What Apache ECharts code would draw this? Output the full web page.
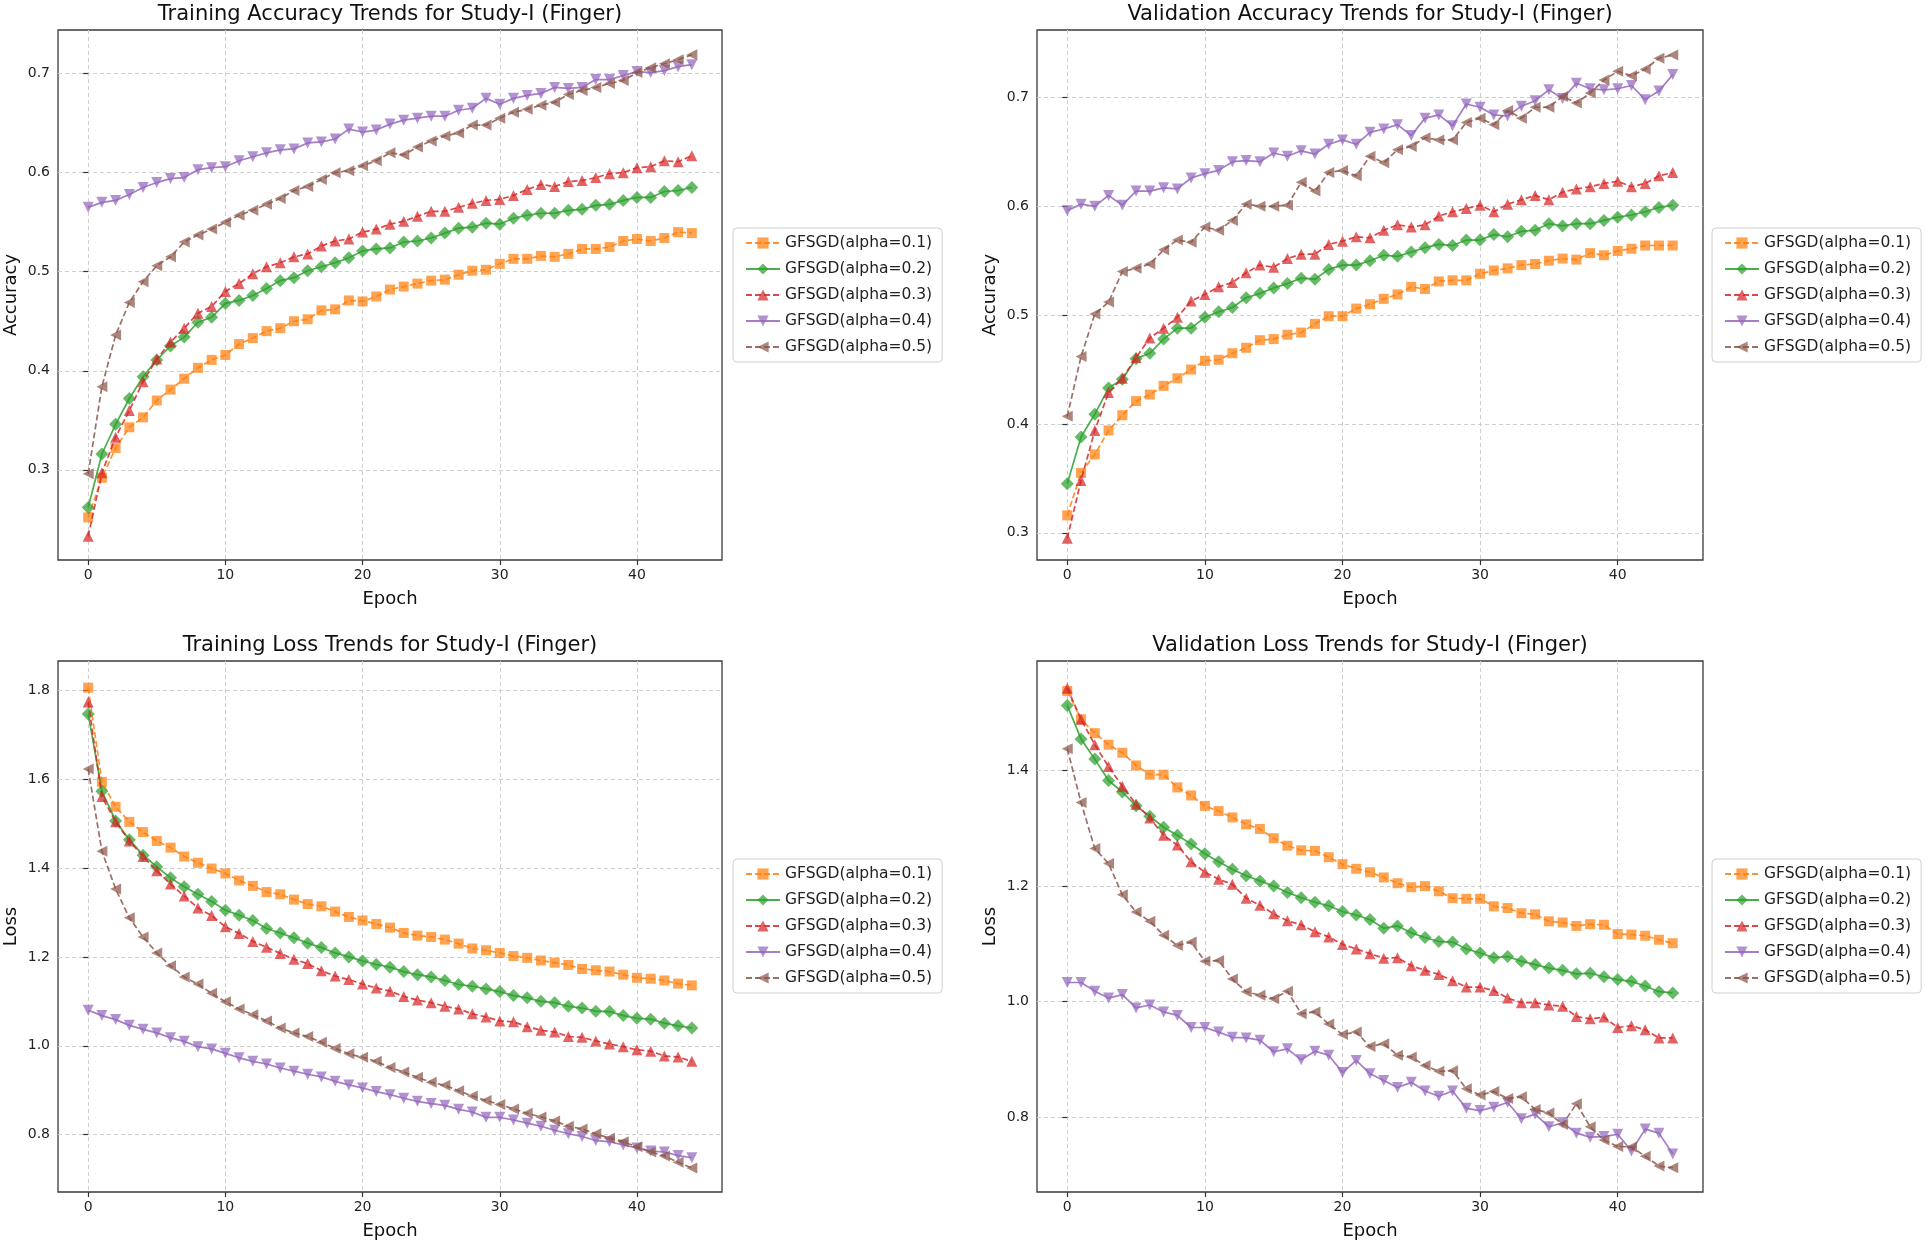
<!DOCTYPE html>
<html>
<head>
<meta charset="utf-8">
<script src="https://cdn.jsdelivr.net/npm/echarts@6/dist/echarts.min.js"></script>
<style>
html,body{margin:0;padding:0;background:#fff;}
#chart{width:1930px;height:1246px;}
</style>
</head>
<body>
<div id="chart"></div>
<script>
const epochs = [0,1,2,3,4,5,6,7,8,9,10,11,12,13,14,15,16,17,18,19,20,21,22,23,24,25,26,27,28,29,30,31,32,33,34,35,36,37,38,39,40,41,42,43,44];
const seriesNames = ['GFSGD(alpha=0.1)','GFSGD(alpha=0.2)','GFSGD(alpha=0.3)','GFSGD(alpha=0.4)','GFSGD(alpha=0.5)'];
const panelTitles = ['Training Accuracy Trends for Study-I (Finger)','Validation Accuracy Trends for Study-I (Finger)','Training Loss Trends for Study-I (Finger)','Validation Loss Trends for Study-I (Finger)'];
const yAxisNames = ['Accuracy','Accuracy','Loss','Loss'];
const xTickValues = [0,10,20,30,40];
const yTickValues = [[0.3,0.4,0.5,0.6,0.7],[0.3,0.4,0.5,0.6,0.7],[0.8,1.0,1.2,1.4,1.6,1.8],[0.8,1.0,1.2,1.4]];

// Training accuracy
const trainAcc01 = [0.252,0.292,0.322,0.343,0.353,0.370,0.381,0.392,0.403,0.411,0.416,0.427,0.433,0.440,0.443,0.450,0.452,0.461,0.462,0.471,0.470,0.475,0.482,0.485,0.488,0.491,0.492,0.497,0.501,0.502,0.508,0.513,0.513,0.516,0.515,0.518,0.523,0.523,0.525,0.531,0.533,0.531,0.534,0.540,0.539];
const trainAcc02 = [0.262,0.316,0.346,0.372,0.394,0.411,0.425,0.434,0.449,0.454,0.468,0.471,0.476,0.483,0.491,0.494,0.501,0.505,0.509,0.514,0.521,0.523,0.524,0.530,0.531,0.534,0.539,0.544,0.545,0.549,0.548,0.554,0.557,0.559,0.559,0.562,0.563,0.567,0.568,0.572,0.575,0.575,0.581,0.582,0.585];
const trainAcc03 = [0.233,0.297,0.333,0.360,0.389,0.412,0.429,0.443,0.458,0.465,0.480,0.488,0.498,0.505,0.509,0.515,0.518,0.526,0.531,0.533,0.540,0.543,0.548,0.551,0.556,0.561,0.561,0.565,0.569,0.572,0.573,0.577,0.583,0.588,0.586,0.591,0.592,0.595,0.599,0.600,0.605,0.606,0.612,0.611,0.617];
const trainAcc04 = [0.565,0.570,0.572,0.578,0.585,0.590,0.594,0.595,0.603,0.605,0.606,0.612,0.616,0.620,0.623,0.624,0.630,0.631,0.634,0.644,0.641,0.643,0.649,0.653,0.655,0.657,0.657,0.663,0.665,0.675,0.669,0.675,0.678,0.680,0.686,0.685,0.686,0.694,0.694,0.698,0.702,0.701,0.703,0.707,0.709];
const trainAcc05 = [0.296,0.384,0.436,0.469,0.490,0.506,0.515,0.530,0.537,0.543,0.550,0.557,0.562,0.568,0.574,0.582,0.586,0.593,0.600,0.602,0.607,0.612,0.620,0.618,0.626,0.632,0.637,0.640,0.648,0.648,0.655,0.661,0.664,0.668,0.671,0.679,0.683,0.686,0.690,0.693,0.701,0.706,0.710,0.714,0.719];

// Validation accuracy
const valAcc01 = [0.316,0.355,0.372,0.394,0.408,0.421,0.427,0.435,0.442,0.450,0.458,0.459,0.465,0.470,0.477,0.478,0.482,0.484,0.492,0.499,0.499,0.506,0.510,0.515,0.519,0.526,0.524,0.531,0.532,0.532,0.538,0.541,0.543,0.546,0.547,0.550,0.552,0.551,0.557,0.555,0.559,0.561,0.564,0.564,0.564];
const valAcc02 = [0.345,0.388,0.409,0.433,0.441,0.460,0.465,0.478,0.488,0.488,0.498,0.503,0.507,0.516,0.520,0.525,0.529,0.534,0.533,0.542,0.546,0.546,0.550,0.555,0.554,0.558,0.562,0.565,0.564,0.569,0.569,0.574,0.572,0.577,0.578,0.584,0.582,0.584,0.584,0.587,0.590,0.592,0.595,0.599,0.601];
const valAcc03 = [0.295,0.348,0.394,0.429,0.442,0.461,0.479,0.488,0.498,0.513,0.519,0.526,0.530,0.539,0.546,0.544,0.552,0.556,0.556,0.565,0.568,0.572,0.571,0.578,0.583,0.581,0.583,0.591,0.595,0.598,0.601,0.595,0.602,0.606,0.610,0.606,0.613,0.616,0.618,0.621,0.623,0.618,0.621,0.628,0.631];
const valAcc04 = [0.596,0.602,0.600,0.610,0.601,0.614,0.614,0.617,0.616,0.626,0.630,0.633,0.641,0.642,0.641,0.649,0.646,0.651,0.648,0.657,0.661,0.657,0.668,0.671,0.675,0.665,0.681,0.684,0.674,0.694,0.691,0.684,0.683,0.692,0.697,0.707,0.699,0.713,0.708,0.707,0.708,0.711,0.698,0.706,0.721];
const valAcc05 = [0.407,0.462,0.501,0.512,0.540,0.543,0.547,0.560,0.569,0.567,0.581,0.578,0.587,0.602,0.600,0.600,0.601,0.622,0.614,0.631,0.633,0.628,0.646,0.640,0.652,0.655,0.663,0.661,0.661,0.677,0.681,0.675,0.688,0.681,0.691,0.691,0.701,0.695,0.704,0.716,0.724,0.720,0.726,0.736,0.739];

// Training loss
const trainLoss01 = [1.806,1.594,1.538,1.504,1.481,1.461,1.446,1.426,1.412,1.399,1.388,1.372,1.360,1.346,1.341,1.329,1.319,1.314,1.302,1.290,1.282,1.274,1.266,1.254,1.248,1.245,1.239,1.230,1.219,1.215,1.209,1.202,1.198,1.192,1.187,1.182,1.173,1.170,1.167,1.160,1.153,1.151,1.147,1.140,1.136];
const trainLoss02 = [1.747,1.573,1.506,1.464,1.429,1.403,1.378,1.358,1.341,1.325,1.305,1.294,1.282,1.264,1.254,1.243,1.231,1.221,1.209,1.200,1.191,1.183,1.177,1.167,1.160,1.155,1.147,1.138,1.134,1.128,1.122,1.113,1.108,1.100,1.097,1.089,1.085,1.078,1.077,1.068,1.062,1.060,1.051,1.045,1.040];
const trainLoss03 = [1.774,1.561,1.504,1.461,1.426,1.394,1.364,1.337,1.310,1.293,1.268,1.253,1.235,1.222,1.208,1.195,1.185,1.169,1.157,1.149,1.139,1.130,1.123,1.111,1.103,1.097,1.089,1.083,1.072,1.065,1.056,1.054,1.043,1.035,1.031,1.021,1.019,1.011,1.004,0.998,0.991,0.988,0.977,0.975,0.965];
const trainLoss04 = [1.080,1.068,1.059,1.046,1.037,1.029,1.018,1.010,0.998,0.993,0.983,0.973,0.965,0.959,0.950,0.943,0.936,0.930,0.920,0.912,0.905,0.897,0.890,0.882,0.875,0.870,0.866,0.857,0.851,0.839,0.839,0.833,0.826,0.819,0.810,0.802,0.796,0.787,0.784,0.777,0.770,0.763,0.761,0.753,0.748];
const trainLoss05 = [1.623,1.438,1.353,1.288,1.245,1.209,1.180,1.155,1.139,1.118,1.099,1.083,1.070,1.056,1.040,1.029,1.021,1.008,0.994,0.982,0.974,0.965,0.951,0.941,0.929,0.918,0.911,0.899,0.887,0.877,0.868,0.858,0.848,0.840,0.831,0.819,0.813,0.802,0.792,0.784,0.773,0.761,0.752,0.738,0.725];

// Validation loss
const valLoss01 = [1.538,1.489,1.465,1.445,1.431,1.409,1.393,1.393,1.371,1.357,1.339,1.330,1.319,1.307,1.299,1.283,1.270,1.262,1.261,1.250,1.238,1.230,1.224,1.215,1.205,1.198,1.200,1.191,1.179,1.178,1.178,1.165,1.162,1.153,1.151,1.139,1.137,1.131,1.134,1.133,1.117,1.116,1.114,1.107,1.101];
const valLoss02 = [1.513,1.455,1.420,1.383,1.363,1.339,1.321,1.302,1.288,1.273,1.256,1.242,1.229,1.218,1.209,1.200,1.189,1.180,1.172,1.166,1.156,1.150,1.142,1.127,1.131,1.119,1.111,1.104,1.103,1.091,1.084,1.076,1.078,1.070,1.064,1.058,1.054,1.048,1.049,1.043,1.038,1.035,1.027,1.017,1.015];
const valLoss03 = [1.543,1.489,1.445,1.407,1.373,1.342,1.318,1.288,1.271,1.242,1.224,1.212,1.203,1.179,1.167,1.152,1.140,1.133,1.121,1.112,1.099,1.091,1.083,1.075,1.076,1.062,1.054,1.047,1.036,1.025,1.025,1.019,1.006,0.998,0.998,0.994,0.992,0.974,0.970,0.973,0.955,0.958,0.951,0.937,0.937];
const valLoss04 = [1.033,1.033,1.018,1.006,1.012,0.989,0.994,0.982,0.976,0.955,0.955,0.947,0.938,0.937,0.933,0.913,0.918,0.899,0.914,0.907,0.877,0.898,0.875,0.863,0.851,0.860,0.845,0.836,0.845,0.815,0.811,0.817,0.825,0.797,0.805,0.783,0.790,0.772,0.765,0.766,0.770,0.741,0.779,0.772,0.736];
const valLoss05 = [1.438,1.345,1.265,1.239,1.185,1.155,1.139,1.115,1.097,1.103,1.070,1.071,1.039,1.017,1.011,1.005,1.018,0.979,0.982,0.961,0.943,0.947,0.922,0.927,0.907,0.904,0.889,0.879,0.880,0.849,0.838,0.844,0.832,0.835,0.813,0.807,0.787,0.823,0.783,0.760,0.749,0.748,0.732,0.715,0.712];

const panelData = [
  [trainAcc01,trainAcc02,trainAcc03,trainAcc04,trainAcc05],
  [valAcc01,valAcc02,valAcc03,valAcc04,valAcc05],
  [trainLoss01,trainLoss02,trainLoss03,trainLoss04,trainLoss05],
  [valLoss01,valLoss02,valLoss03,valLoss04,valLoss05]
];

// ---- styling / layout ----
const FONT = 'DejaVu Sans';
const colors = ['#ff7f0e','#2ca02c','#d62728','#9467bd','#8c564b'];
const symbols = ['rect','diamond','triangle','path://M0,0L10,0L5,9Z','path://M9,0L9,10L0,5Z'];
const symbolSizes = [10,13,11,11,11];
const dashed = [true,false,true,false,true];
const grids = [
  {left:58, top:30, width:664, height:530},
  {left:1037, top:30, width:666, height:530},
  {left:58, top:661, width:664, height:531},
  {left:1037, top:661, width:666, height:531}
];
const yRanges = [[0.209,0.744],[0.275,0.762],[0.671,1.866],[0.670,1.590]];
const xRange = [-2.2,46.2];
const legendPos = [[733,228],[1712,228],[733,859],[1712,859]];

const option = {
  animation:false,
  backgroundColor:'#fff',
  textStyle:{fontFamily:FONT},
  grid: grids.map(g => Object.assign({show:true, borderColor:'#3a3a3a', borderWidth:1.3, backgroundColor:'#fff', containLabel:false}, g)),
  xAxis: grids.map((g,i) => ({
    type:'value', gridIndex:i, min:xRange[0], max:xRange[1],
    name:'Epoch', nameLocation:'middle', nameGap:30,
    nameTextStyle:{fontSize:18, color:'#111', fontFamily:FONT},
    axisLine:{show:false},
    axisTick:{show:true, length:5, lineStyle:{color:'#333', width:1.2}, customValues:xTickValues},
    axisLabel:{fontSize:14, color:'#222', margin:8, fontFamily:FONT, customValues:xTickValues},
    splitLine:{show:true, lineStyle:{color:'#cfcfcf', type:[4,3], width:1}}
  })),
  yAxis: grids.map((g,i) => ({
    type:'value', gridIndex:i, min:yRanges[i][0], max:yRanges[i][1],
    name:yAxisNames[i], nameLocation:'middle', nameGap:38,
    nameTextStyle:{fontSize:18, color:'#111', fontFamily:FONT},
    axisLine:{show:false},
    axisTick:{show:true, length:5, lineStyle:{color:'#333', width:1.2}, customValues:yTickValues[i]},
    axisLabel:{fontSize:14, color:'#222', margin:8, fontFamily:FONT, customValues:yTickValues[i], formatter: v => v.toFixed(1)},
    splitLine:{show:true, lineStyle:{color:'#cfcfcf', type:[4,3], width:1}}
  })),
  legend: legendPos.map(p => ({
    orient:'vertical', left:p[0], top:p[1],
    itemWidth:34, itemHeight:14, itemGap:10,
    padding:[7,10,7,12],
    borderColor:'#d0d0d0', borderWidth:1, borderRadius:4, backgroundColor:'#fff',
    textStyle:{fontSize:15.5, color:'#222', fontFamily:FONT},
    selectedMode:false,
    data:seriesNames
  })),
  graphic: panelTitles.map((t,i) => ({
    type:'text',
    x: grids[i].left + grids[i].width/2,
    y: grids[i].top - 15,
    style:{text:t, fontSize:21, fontFamily:FONT, fill:'#111', textAlign:'center', textVerticalAlign:'middle'}
  })),
  series: []
};

panelData.forEach((set, pi) => {
  set.forEach((arr, si) => {
    option.series.push({
      type:'line', name:seriesNames[si], xAxisIndex:pi, yAxisIndex:pi,
      data: arr.map((v,k) => [epochs[k], v]),
      symbol: symbols[si], symbolSize: symbolSizes[si], showSymbol:true,
      lineStyle:{color:colors[si], width:1.7, type: dashed[si] ? [6,3] : 'solid', opacity:0.85},
      itemStyle:{color:colors[si], opacity:0.72},
      emphasis:{disabled:true},
      z: 2 + si
    });
  });
});

const chart = echarts.init(document.getElementById('chart'), null, {renderer:'canvas'});
chart.setOption(option);
</script>
</body>
</html>
